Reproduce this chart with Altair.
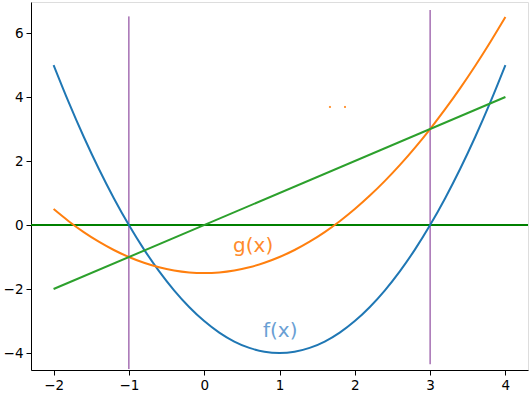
import altair as alt
import pandas as pd

xs = [-2.0, -1.8, -1.6, -1.4, -1.2, -1.0, -0.8, -0.6, -0.4, -0.2, 0.0,
      0.2, 0.4, 0.6, 0.8, 1.0, 1.2, 1.4, 1.6, 1.8, 2.0,
      2.2, 2.4, 2.6, 2.8, 3.0, 3.2, 3.4, 3.6, 3.8, 4.0]
f_vals = [5.0, 3.84, 2.76, 1.76, 0.84, 0.0, -0.76, -1.44, -2.04, -2.56, -3.0,
          -3.36, -3.64, -3.84, -3.96, -4.0, -3.96, -3.84, -3.64, -3.36, -3.0,
          -2.56, -2.04, -1.44, -0.76, 0.0, 0.84, 1.76, 2.76, 3.84, 5.0]
g_vals = [0.5, 0.12, -0.22, -0.52, -0.78, -1.0, -1.18, -1.32, -1.42, -1.48, -1.5,
          -1.48, -1.42, -1.32, -1.18, -1.0, -0.78, -0.52, -0.22, 0.12, 0.5,
          0.92, 1.38, 1.88, 2.42, 3.0, 3.62, 4.28, 4.98, 5.72, 6.5]
h_x = [-2.0, 4.0]
h_vals = [-2.0, 4.0]

vline_x = [-1.0, 3.0]
vline_y0 = [-4.5, -4.35]
vline_y1 = [6.52, 6.72]

hline_x = [-2.3, 4.3]
hline_y = [0.0, 0.0]

labels = ["g(x)", "f(x)"]
label_x = [0.65, 1.01]
label_y = [-0.66, -3.31]
label_colors = ["#ff8a2a", "#6a9fd4"]

dot_x = [1.67, 1.87]
dot_y = [3.69, 3.69]

XDOM = [-2.3, 4.3]
YDOM = [-4.53, 6.97]

xscale = alt.Scale(domain=XDOM, nice=False, zero=False)
yscale = alt.Scale(domain=YDOM, nice=False, zero=False)

FONT = "DejaVu Sans"
xaxis = alt.Axis(values=[-2, -1, 0, 1, 2, 3, 4], format="d", title=None, grid=False,
                 labelExpr="replace(datum.label, '-', '\u2212')",
                 tickSize=5, tickColor="black", domainColor="black",
                 labelColor="black", labelFont=FONT, labelFontSize=13.5, labelPadding=3)
yaxis = alt.Axis(values=[-4, -2, 0, 2, 4, 6], format="d", title=None, grid=False,
                 labelExpr="replace(datum.label, '-', '\u2212')",
                 tickSize=5, tickColor="black", domainColor="black",
                 labelColor="black", labelFont=FONT, labelFontSize=13.5, labelPadding=3)

curves = pd.DataFrame({"x": xs, "f": f_vals, "g": g_vals})
hdf = pd.DataFrame({"x": h_x, "h": h_vals})
vdf = pd.DataFrame({"x": vline_x, "y0": vline_y0, "y1": vline_y1})
hl = pd.DataFrame({"x": hline_x, "y": hline_y})
ldf = pd.DataFrame({"label": labels, "x": label_x, "y": label_y, "c": label_colors})
ddf = pd.DataFrame({"x": dot_x, "y": dot_y})

vr = alt.Chart(vdf).mark_rule(color="#6a1080", strokeWidth=0.9).encode(
    x=alt.X("x:Q", scale=xscale, axis=xaxis),
    y=alt.Y("y0:Q", scale=yscale, axis=yaxis),
    y2="y1:Q",
)
hr = alt.Chart(hl).mark_line(color="#008000", strokeWidth=2, clip=True).encode(
    x=alt.X("x:Q", scale=xscale), y=alt.Y("y:Q", scale=yscale))
fl = alt.Chart(curves).mark_line(color="#1f77b4", strokeWidth=2, interpolate="natural", clip=True).encode(
    x=alt.X("x:Q", scale=xscale), y=alt.Y("f:Q", scale=yscale))
gl = alt.Chart(curves).mark_line(color="#ff7f0e", strokeWidth=2, interpolate="natural", clip=True).encode(
    x=alt.X("x:Q", scale=xscale), y=alt.Y("g:Q", scale=yscale))
hline = alt.Chart(hdf).mark_line(color="#2ca02c", strokeWidth=2, clip=True).encode(
    x=alt.X("x:Q", scale=xscale), y=alt.Y("h:Q", scale=yscale))
txt = alt.Chart(ldf).mark_text(font=FONT, fontSize=20, align="center", baseline="middle").encode(
    x=alt.X("x:Q", scale=xscale), y=alt.Y("y:Q", scale=yscale),
    text="label:N", color=alt.Color("c:N", scale=None))
dots = alt.Chart(ddf).mark_square(color="#ff7f0e", size=4, opacity=0.8).encode(
    x=alt.X("x:Q", scale=xscale), y=alt.Y("y:Q", scale=yscale))

chart = alt.layer(vr, hr, fl, gl, hline, txt, dots).properties(
    width=497, height=368,
    autosize=alt.AutoSizeParams(type="none"),
    padding={"left": 31, "top": 2, "right": 2, "bottom": 26},
).configure_view(stroke="black", strokeWidth=1).configure(background="white")

chart.save("out.html", embed_options={"renderer": "svg", "actions": False})
